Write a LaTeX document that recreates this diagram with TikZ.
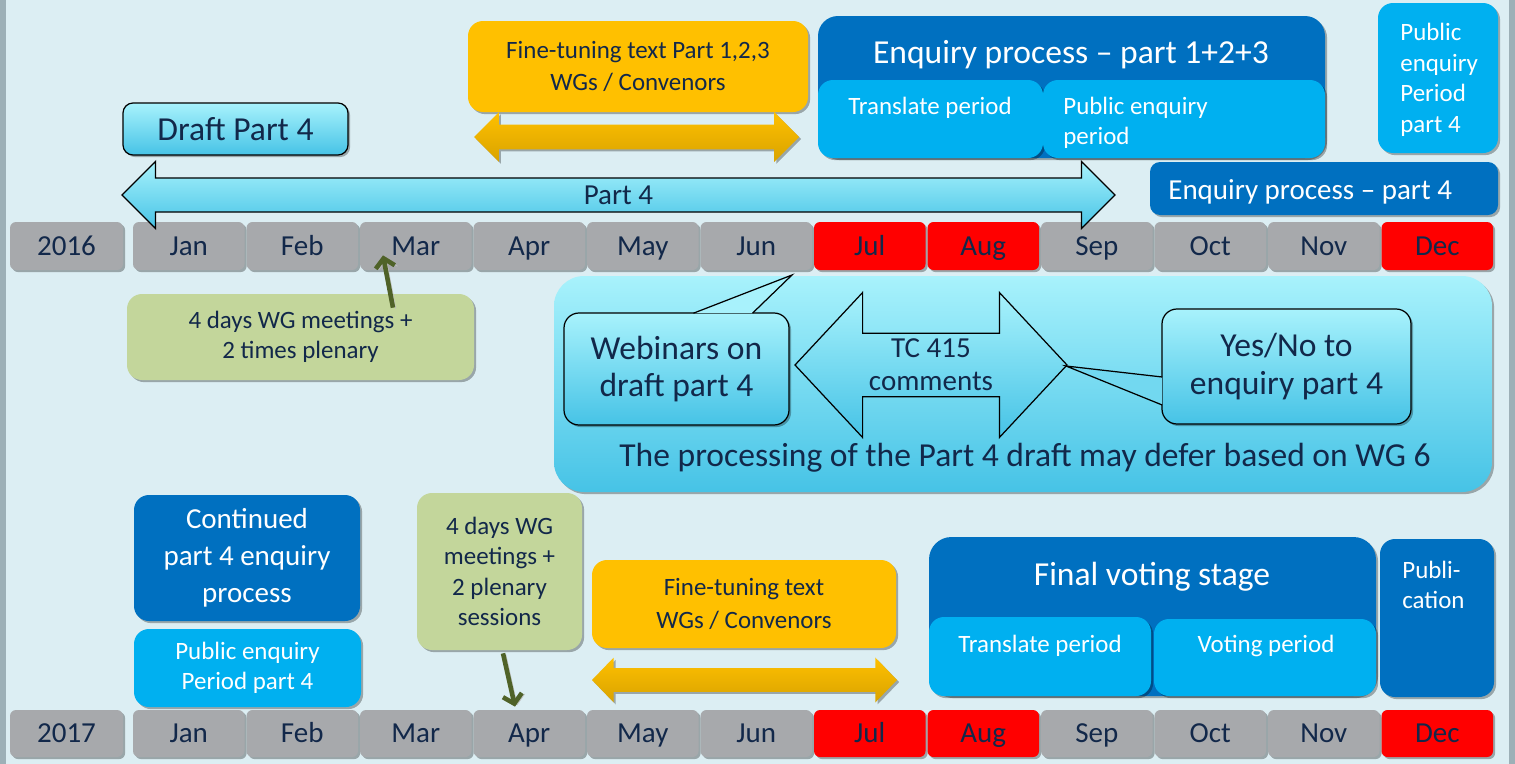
\documentclass[tikz,border=0pt]{standalone}
\usepackage{fontspec}
\setmainfont{Carlito}
\usepackage{tikz}
\usetikzlibrary{positioning, calc, shapes.arrows, arrows.meta, shadows}

\definecolor{bgblue}{HTML}{DCEEF3}
\definecolor{edgegray}{HTML}{9DB0B7}
\definecolor{mgray}{HTML}{A7A9AC}
\definecolor{mred}{HTML}{FF0000}
\definecolor{navy}{HTML}{12284A}
\definecolor{dblue}{HTML}{0070C0}
\definecolor{lblue}{HTML}{00B0F0}
\definecolor{gold}{HTML}{FFC000}
\definecolor{lgreen}{HTML}{C3D69B}
\definecolor{olive}{HTML}{4F6228}
\definecolor{cyantop}{HTML}{A8F2FC}
\definecolor{cyanbot}{HTML}{46C3E6}

\newcommand{\fbig}{\fontsize{19.1}{22.2}\selectfont}
\newcommand{\fmid}{\fontsize{16.5}{21}\selectfont}
\newcommand{\fsmall}{\fontsize{14.2}{17.4}\selectfont}

\begin{document}
\begin{tikzpicture}[x=0.02cm, y=-0.02cm,
    sz/.style 2 args={minimum width=#1*0.02cm, minimum height=#2*0.02cm},
    shd/.style={drop shadow={shadow xshift=1.2pt, shadow yshift=-1.2pt, opacity=0.3, fill=black}},
    month/.style={rectangle, rounded corners=0.12cm, inner sep=0pt, text height=0.37cm, text depth=0pt,
      font=\fmid, text=navy, shd},
    box/.style={rectangle, rounded corners=0.3cm, inner sep=0pt, align=center, shd},
    wtxt/.style={text=white, inner sep=0pt, align=left},
    ntxt/.style={text=navy, inner sep=0pt, align=center},
    cyanfill/.style={top color=cyantop, bottom color=cyanbot},
    callbox/.style={box, cyanfill, draw=black, line width=0.7pt, font=\fbig, text=navy},
    goldarrow/.style={double arrow, top color=gold, bottom color=gold!85!black, inner sep=0pt, text depth=0pt, shd},
    garrow/.style={draw=olive, line width=2.6pt, -{Straight Barb[length=5pt, width=11pt]},
      preaction={draw=black!25, transform canvas={xshift=1.6pt, yshift=-0.6pt}}}]

  \useasboundingbox (0,0) rectangle (1515,764);

  % Background
  \fill[bgblue] (0,0) rectangle (1515,764);
  \fill[edgegray] (0,0) rectangle (6,764);
  \fill[edgegray] (1509,0) rectangle (1515,764);

  % Months
  \node[month, fill=mgray, sz={113}{48}] (y16) at (66.5,246) {2016};
  \node[month, fill=mgray, sz={113}{47}] (y17) at (66.5,733.5) {2017};
  \foreach \m/\c [count=\i] in {Jan/mgray, Feb/mgray, Mar/mgray, Apr/mgray, May/mgray, Jun/mgray,
      Jul/mred, Aug/mred, Sep/mgray, Oct/mgray, Nov/mgray, Dec/mred} {
    \node[month, fill=\c, sz={111.5}{48}] (m16-\i) at ({188.75+113.5*(\i-1)},246) {\m};
    \node[month, fill=\c, sz={111.5}{47}] (m17-\i) at ({188.75+113.5*(\i-1)},733.5) {\m};
  }

  % 2016
  \node[box, cyanfill, draw=black, line width=0.7pt, rounded corners=0.2cm, sz={225}{52},
    font=\fbig, text=navy] (draft) at (235.5,129) {Draft Part 4};
  \node[double arrow, draw=black, line width=0.7pt, cyanfill, sz={66}{993},
    double arrow head extend=0.33cm, double arrow tip angle=90, inner sep=0pt,
    text height=0.51cm, text depth=0.15cm, font=\fmid, text=navy] (part4) at (618.5,195) {Part 4};

  \node[box, fill=gold, sz={340}{91}, font=\fsmall, text=navy] (ft16) at (638,66.5)
    {Fine-tuning text Part 1,2,3\\[1pt]WGs / Convenors};
  \node[goldarrow, sz={49}{325}, text height=0.48cm, double arrow head extend=0.25cm,
    double arrow tip angle=90] (ya16) at (636.5,137) {};

  \node[box, fill=dblue, sz={507}{142}, rounded corners=0.4cm] (enq) at (1071.5,87) {};
  \node[box, fill=lblue, sz={225}{78}] (tr16) at (930.5,119) {};
  \node[box, fill=lblue, sz={282}{78}] (pe16) at (1184,119) {};
  \node[wtxt, font=\fbig] (enqt) at (1071,55) {Enquiry process – part 1+2+3};
  \node[wtxt, font=\fsmall] (tr16t) at (930,108) {Translate period};
  \node[wtxt, font=\fsmall, anchor=west] (pe16t) at (1063,123) {Public enquiry\\period};

  \node[box, fill=lblue, sz={120}{150}] (pep4) at (1438,78) {};
  \node[wtxt, font=\fsmall, anchor=west] (pep4t) at (1400,80) {Public\\enquiry\\Period\\part 4};

  \node[box, fill=dblue, sz={348}{53}, rounded corners=0.2cm] (ep4) at (1324,188.5) {};
  \node[wtxt, font=\fmid, anchor=west] (ep4t) at (1168,192) {Enquiry process – part 4};

  \node[box, fill=lgreen, sz={347}{86}, font=\fsmall, text=navy] (g16) at (300.5,337)
    {4 days WG meetings +\\2 times plenary};
  \draw[garrow] ([xshift=1.85cm, yshift=-0.28cm]g16.north) -- ([xshift=-0.655cm, yshift=0.3cm]m16-3.south);

  % Part 4 processing
  \node[box, cyanfill, sz={938}{216}, rounded corners=0.6cm] (proc) at (1023,384) {};
  \node[callbox, sz={225}{112}] (web) at (676.5,369) {Webinars on\\[-1pt]draft part 4};
  \coordinate (webtip) at (792,275);
  \draw[fill=cyantop, line width=0.7pt] ($(web.north)+(17,0.8)$) -- (webtip) -- ($(web.north)+(76,0.8)$);
  \node[callbox, sz={249}{115}] (yn) at (1286.5,366.5) {Yes/No to\\[-1pt]enquiry part 4};
  \coordinate (yntip) at (1066,366);
  \node[double arrow, draw=black, line width=0.7pt, cyanfill, sz={145}{272},
    double arrow head extend=0.75cm, double arrow tip angle=94, inner xsep=0pt, inner ysep=0.05cm,
    align=center, font=\fontsize{16.5}{18.8}\selectfont, text=navy] (tc) at (931,365) {TC 415\\comments};
  \draw[fill=cyantop!45!cyanbot, line width=0.7pt] ($(yn.west)+(0.8,10.5)$) -- (yntip) -- ($(yn.west)+(0.8,38.5)$);
  \node[ntxt, font=\fbig] (defer) at (1025,458) {The processing of the Part 4 draft may defer based on WG 6};

  % 2017
  \node[box, fill=dblue, sz={226}{126}, font=\fmid, text=white] (cont) at (247,558)
    {Continued\\part 4 enquiry\\process};
  \node[box, fill=lblue, sz={227}{78}, font=\fsmall, text=white] (pe17) at (247.5,668)
    {Public enquiry\\Period part 4};

  \node[box, fill=lgreen, sz={165}{157}, font=\fsmall, text=navy] (g17) at (499.5,571.5)
    {4 days WG\\meetings +\\2 plenary\\sessions};
  \draw[garrow] ([xshift=0.07cm, yshift=-0.06cm]g17.south) -- ([xshift=-0.285cm, yshift=0.06cm]m17-4.north);

  \node[box, fill=gold, sz={304}{88}, font=\fsmall, text=navy] (ft17) at (744,604)
    {Fine-tuning text\\[1pt]WGs / Convenors};
  \node[goldarrow, sz={44}{305}, text height=0.46cm, double arrow head extend=0.21cm,
    double arrow tip angle=92] (ya17) at (744.5,680) {};

  \node[box, fill=dblue, sz={447}{159}, rounded corners=0.45cm] (fvs) at (1152.5,616.5) {};
  \node[box, fill=lblue, sz={222}{79}] (tr17) at (1040,656.5) {};
  \node[box, fill=lblue, sz={222}{77}] (vp17) at (1265,657.5) {};
  \node[wtxt, font=\fbig] (fvst) at (1152,577) {Final voting stage};
  \node[wtxt, font=\fsmall] (tr17t) at (1040,646) {Translate period};
  \node[wtxt, font=\fsmall] (vp17t) at (1266,646) {Voting period};

  \node[box, fill=dblue, sz={114}{158}] (pub) at (1437,618) {};
  \node[wtxt, font=\fsmall, anchor=west] (pubt) at (1402,585) {Publi-\\cation};
\end{tikzpicture}
\end{document}
